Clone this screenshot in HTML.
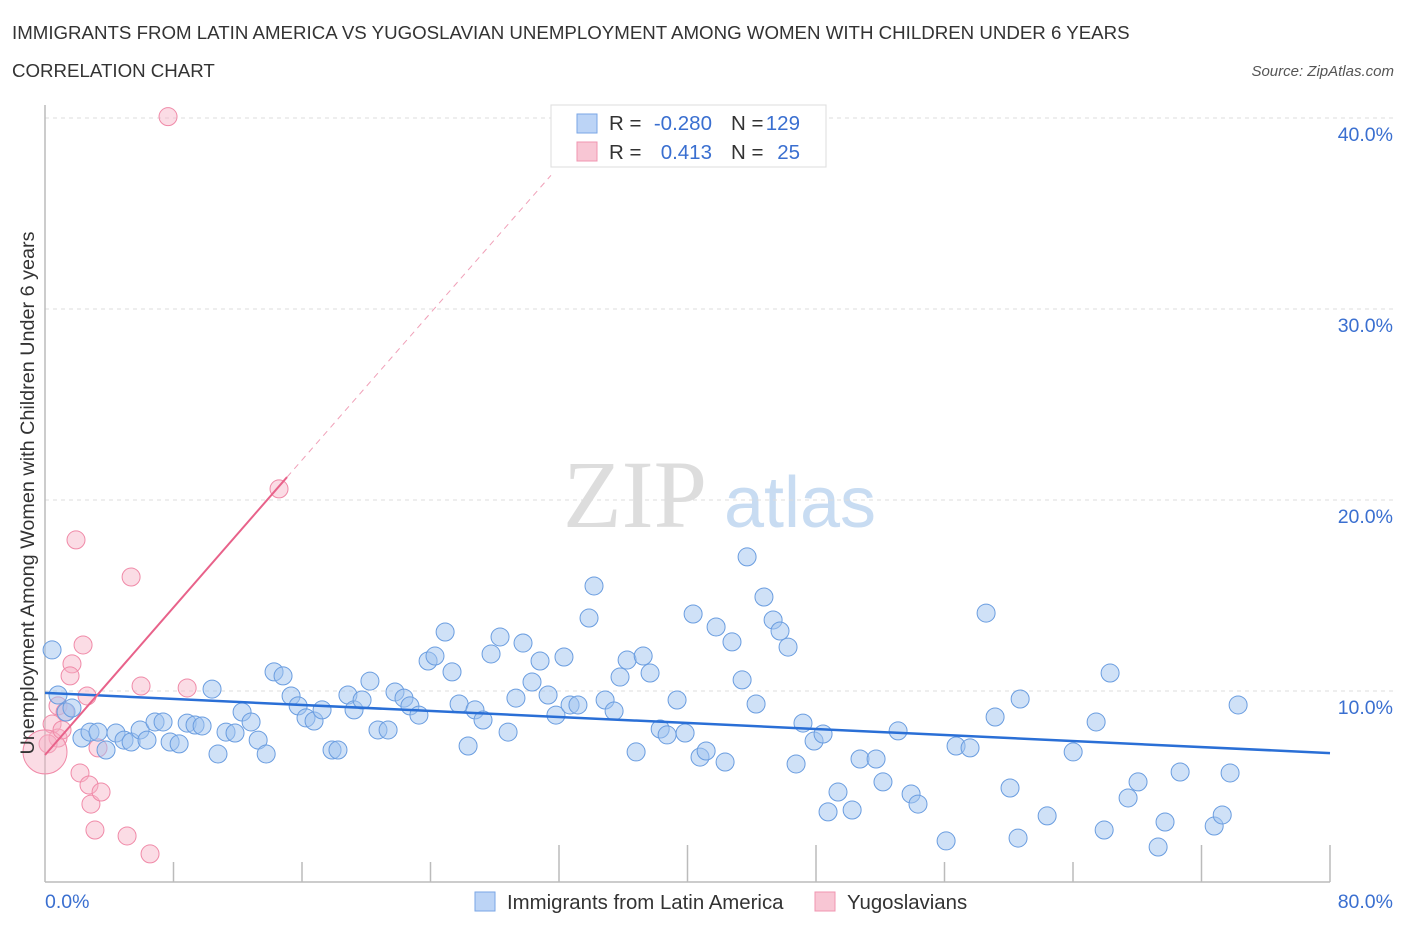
<!DOCTYPE html>
<html><head><meta charset="utf-8"><style>
body{margin:0;background:#fff;font-family:"Liberation Sans",sans-serif;}
</style></head><body>
<svg width="1406" height="930" xmlns="http://www.w3.org/2000/svg" font-family="Liberation Sans, sans-serif">
<text x="12" y="39" font-size="18.7" fill="#333">IMMIGRANTS FROM LATIN AMERICA VS YUGOSLAVIAN UNEMPLOYMENT AMONG WOMEN WITH CHILDREN UNDER 6 YEARS</text>
<text x="12" y="77" font-size="18.7" fill="#333">CORRELATION CHART</text>
<text x="1394" y="76" font-size="15" fill="#555" text-anchor="end" font-style="italic">Source: ZipAtlas.com</text>
<g>
<text x="635" y="527" font-size="96" fill="#ddd" font-family="Liberation Serif, serif" text-anchor="middle">ZIP</text>
<text x="800" y="527" font-size="72" fill="#c8dcf2" text-anchor="middle">atlas</text>
</g>
<g id="grid"></g>
<g id="axes"></g>
<g id="marks"></g>
<text transform="translate(34,493) rotate(-90)" font-size="19.8" fill="#333" text-anchor="middle">Unemployment Among Women with Children Under 6 years</text>
<g>
<rect x="551" y="105" width="275" height="62" fill="#fff" stroke="#ddd"/>
<rect x="577" y="114" width="20" height="19" fill="#bcd4f6" stroke="#7aa6e6"/>
<rect x="577" y="142" width="20" height="19" fill="#f8c6d4" stroke="#f095b0"/>
<text x="609" y="130" font-size="20.5" fill="#333">R = </text><text x="712" y="130" font-size="20.5" fill="#3a6fd0" text-anchor="end">-0.280</text>
<text x="731" y="130" font-size="20.5" fill="#333">N = </text><text x="800" y="130" font-size="20.5" fill="#3a6fd0" text-anchor="end">129</text>
<text x="609" y="159" font-size="20.5" fill="#333">R = </text><text x="712" y="159" font-size="20.5" fill="#3a6fd0" text-anchor="end">0.413</text>
<text x="731" y="159" font-size="20.5" fill="#333">N = </text><text x="800" y="159" font-size="20.5" fill="#3a6fd0" text-anchor="end">25</text>
</g>
<g>
<rect x="475" y="892" width="20" height="19" fill="#bcd4f6" stroke="#7aa6e6"/>
<text x="507" y="909" font-size="20.4" fill="#333">Immigrants from Latin America</text>
<rect x="815" y="892" width="20" height="19" fill="#f8c6d4" stroke="#f095b0"/>
<text x="847" y="909" font-size="20.4" fill="#333">Yugoslavians</text>
</g>
</svg>
<script>
const blueX=[0.44,0.81,1.31,1.68,2.30,2.80,3.30,3.80,4.42,4.92,5.36,5.92,6.35,6.85,7.35,7.79,8.35,8.85,9.34,9.78,10.40,10.77,11.27,11.83,12.27,12.83,13.27,13.77,14.26,14.82,15.32,15.76,16.25,16.75,17.25,17.87,18.24,18.86,19.24,19.74,20.23,20.73,21.36,21.79,22.35,22.72,23.28,23.85,24.28,24.91,25.34,25.78,26.34,26.77,27.27,27.77,28.33,28.83,29.32,29.76,30.32,30.82,31.32,31.81,32.31,32.69,33.18,33.87,34.18,34.87,35.43,35.80,36.24,36.80,37.24,37.67,38.30,38.73,39.35,39.85,40.35,40.78,41.16,41.78,42.34,42.77,43.40,43.71,44.27,44.76,45.33,45.76,46.26,46.76,47.19,47.88,48.44,48.75,49.37,50.25,50.74,51.74,52.17,53.11,53.92,54.35,56.10,56.72,57.59,58.59,59.15,60.08,60.58,60.71,62.39,64.01,65.44,65.94,66.31,67.43,68.05,69.30,69.73,70.67,72.79,73.29,73.78,74.28];
const blueY=[12.15,9.79,8.90,9.11,7.54,7.85,7.85,6.91,7.80,7.43,7.33,7.96,7.43,8.38,8.38,7.33,7.23,8.32,8.22,8.17,10.10,6.70,7.85,7.80,8.90,8.38,7.43,6.70,11.00,10.79,9.74,9.22,8.59,8.43,9.01,6.91,6.91,9.79,9.01,9.53,10.52,7.96,7.96,9.95,9.63,9.22,8.74,11.57,11.83,13.09,11.00,9.32,7.12,9.01,8.48,11.94,12.83,7.85,9.63,12.51,10.47,11.57,9.79,8.74,11.78,9.27,9.27,13.82,15.50,9.53,8.95,10.73,11.62,6.81,11.83,10.94,8.01,7.70,9.53,7.80,14.03,6.54,6.86,13.35,6.28,12.57,10.58,17.02,9.32,14.92,13.72,13.14,12.30,6.18,8.32,7.38,7.75,3.67,4.71,3.77,6.44,6.44,5.24,7.91,4.61,4.08,2.15,7.12,7.02,14.08,8.64,4.92,2.30,9.58,3.46,6.81,8.38,2.72,10.94,4.40,5.24,1.83,3.14,5.76,2.93,3.51,5.71,9.27];
const pinkX=[7.66,14.57,1.93,5.36,2.37,1.68,1.56,8.85,5.98,2.62,0.81,1.25,0.44,0.81,0.19,0.00,3.30,2.18,2.74,2.86,3.49,3.11,5.11,6.54,1.06];
const pinkY=[40.07,20.58,17.91,15.97,12.41,11.42,10.79,10.16,10.26,9.74,9.22,8.90,8.27,7.54,7.23,6.81,7.02,5.71,5.08,4.08,4.71,2.72,2.41,1.47,7.96];
const pinkR=[9,9,9,9,9,9,9,9,9,9,9,9,9,9,9,22,9,9,9,9,9,9,9,9,9];
const yTicks=[10,20,30,40];
const yTickLabels=["10.0%","20.0%","30.0%","40.0%"];
const blueTrend=[[0,9.9],[80,6.75]];
const pinkTrend=[[0,6.65],[15.07,21.2]];
const pinkDash=[[15.07,21.2],[31.5,37.0]];

const NS="http://www.w3.org/2000/svg";
const X=v=>45+v*1285/80;
const Y=v=>882-v*19.1;
function mk(tag,attrs,parent){const e=document.createElementNS(NS,tag);for(const k in attrs)e.setAttribute(k,attrs[k]);parent.appendChild(e);return e;}
const grid=document.getElementById('grid'),axes=document.getElementById('axes'),marks=document.getElementById('marks');
yTicks.forEach((t,i)=>{
  const l=mk('line',{x1:45,x2:1394,y1:Y(t),y2:Y(t),stroke:'#ddd','stroke-dasharray':'4,4'},grid);
  
  
  const tx=mk('text',{x:1393,y:Y(t)+23,'font-size':19.5,fill:'#3a6fd0','text-anchor':'end'},axes);
  tx.textContent=yTickLabels[i];
  
  
});
const ax=mk('line',{x1:45,x2:1330,y1:882,y2:882,stroke:'#bbb','stroke-width':1.5},axes);


const ay=mk('line',{x1:45,x2:45,y1:105,y2:882,stroke:'#bbb','stroke-width':1.5},axes);


const tallTicks=[4,5,6,9,10];
for(let i=1;i<=10;i++){const v=i*8;const tk=mk('line',{x1:X(v),x2:X(v),y1:(tallTicks.includes(i)?845:862),y2:882,stroke:'#bbb','stroke-width':1.5},axes);
  
  }
const xl0=mk('text',{x:45,y:908,'font-size':19.5,fill:'#3a6fd0'},axes);xl0.textContent='0.0%';


const xl1=mk('text',{x:1393,y:908,'font-size':19.5,fill:'#3a6fd0','text-anchor':'end'},axes);xl1.textContent='80.0%';



pinkX.forEach((x,i)=>{const c=mk('circle',{cx:X(x),cy:Y(pinkY[i]),r:pinkR[i],fill:'rgba(246,178,198,0.45)',stroke:'#f08aa8','stroke-width':1},marks);
  
  });
blueX.forEach((x,i)=>{const c=mk('circle',{cx:X(x),cy:Y(blueY[i]),r:9,fill:'rgba(160,196,240,0.5)',stroke:'#6a9de0','stroke-width':1},marks);
  
  });
const bt=mk('line',{x1:X(blueTrend[0][0]),y1:Y(blueTrend[0][1]),x2:X(blueTrend[1][0]),y2:Y(blueTrend[1][1]),stroke:'#2a6fd6','stroke-width':2.5},marks);


const pt=mk('line',{x1:X(pinkTrend[0][0]),y1:Y(pinkTrend[0][1]),x2:X(pinkTrend[1][0]),y2:Y(pinkTrend[1][1]),stroke:'#e8628a','stroke-width':2},marks);


const pd=mk('line',{x1:X(pinkDash[0][0]),y1:Y(pinkDash[0][1]),x2:X(pinkDash[1][0]),y2:Y(pinkDash[1][1]),stroke:'#f0a0b8','stroke-width':1,'stroke-dasharray':'6,5'},marks);


</script>
</body></html>
